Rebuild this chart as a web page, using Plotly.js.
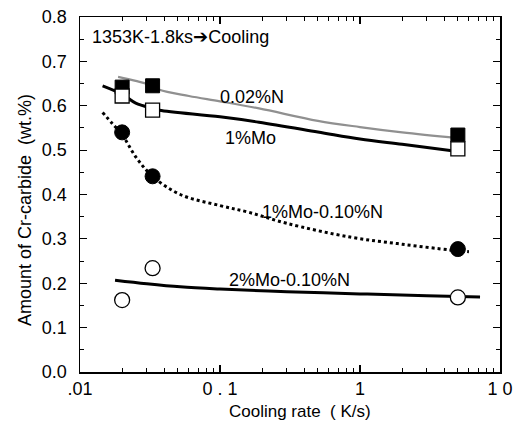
<!DOCTYPE html>
<html>
<head>
<meta charset="utf-8">
<script src="https://cdn.plot.ly/plotly-3.0.1.min.js"></script>
<style>html,body{margin:0;padding:0;background:#fff;}#chart{width:522px;height:423px;}</style>
</head>
<body>
<div id="chart"></div>
<script>
// Measured points
const rates = [0.02, 0.033, 5];
const n002Filled = [0.642, 0.645, 0.534];
const mo1Open = [0.622, 0.590, 0.503];
const mo1n010Filled = [0.540, 0.441, 0.277];
const mo2n010Open = [0.162, 0.234, 0.168];

// Fitted curves
const curveN002X = [0.0187, 0.025, 0.033, 0.037, 0.06, 0.1, 0.19, 0.5, 1, 2, 5];
const curveN002Y = [0.665, 0.656, 0.645, 0.636, 0.622, 0.610, 0.594, 0.566, 0.552, 0.540, 0.527];
const curveMo1X = [0.0145, 0.02, 0.025, 0.033, 0.037, 0.1, 0.19, 0.5, 1, 2, 5];
const curveMo1Y = [0.645, 0.626, 0.606, 0.594, 0.590, 0.575, 0.563, 0.541, 0.525, 0.513, 0.497];
const curveMo1N010X = [0.0145, 0.017, 0.02, 0.025, 0.033, 0.052, 0.1, 0.16, 0.3, 0.85, 2, 4.4, 6];
const curveMo1N010Y = [0.585, 0.560, 0.535, 0.485, 0.441, 0.400, 0.375, 0.360, 0.335, 0.304, 0.288, 0.275, 0.271];
const curveMo2X = [0.0178, 0.03, 0.052, 0.1, 0.3, 1, 3, 7.2];
const curveMo2Y = [0.207, 0.199, 0.192, 0.187, 0.181, 0.176, 0.172, 0.169];

const xTickVals = [0.01, 0.1, 1, 10];
const xTickText = ['.01', '0 . 1', '1', '1 0'];
const yTickVals = [0, 0.1, 0.2, 0.3, 0.4, 0.5, 0.6, 0.7, 0.8];
const yTickText = ['0.0', '0.1', '0.2', '0.3', '0.4', '0.5', '0.6', '0.7', '0.8'];

const minorX = [];
[0.01, 0.1, 1].forEach(d => { for (let k = 2; k <= 9; k++) minorX.push(d * k); });

const FONT = 'Liberation Sans, Arial, sans-serif';

const traces = [
  {x: curveN002X, y: curveN002Y, mode: 'lines', line: {color: '#909090', width: 2.2, shape: 'spline'}, hoverinfo: 'skip'},
  {x: curveMo1X, y: curveMo1Y, mode: 'lines', line: {color: '#000', width: 3, shape: 'spline'}, hoverinfo: 'skip'},
  {x: curveMo1N010X, y: curveMo1N010Y, mode: 'lines', line: {color: '#000', width: 3, dash: 'dot', shape: 'spline'}, hoverinfo: 'skip'},
  {x: curveMo2X, y: curveMo2Y, mode: 'lines', line: {color: '#000', width: 3, shape: 'spline'}, hoverinfo: 'skip'},
  {x: rates, y: n002Filled, mode: 'markers', marker: {symbol: 'square', size: 14, color: '#000', line: {color: '#000', width: 1}}},
  {x: rates, y: mo1Open, mode: 'markers', marker: {symbol: 'square', size: 14, color: '#fff', line: {color: '#000', width: 1.3}}},
  {x: rates, y: mo1n010Filled, mode: 'markers', marker: {symbol: 'circle', size: 15, color: '#000', line: {color: '#000', width: 1}}},
  {x: rates, y: mo2n010Open, mode: 'markers', marker: {symbol: 'circle', size: 15, color: '#fff', line: {color: '#000', width: 1.3}}}
];

const layout = {
  width: 522, height: 423,
  margin: {l: 80, r: 22, t: 17, b: 51},
  paper_bgcolor: '#fff', plot_bgcolor: '#fff',
  showlegend: false,
  font: {family: FONT, color: '#000', size: 18},
  xaxis: {
    type: 'log', range: [-2, 1],
    tickmode: 'array', tickvals: xTickVals, ticktext: xTickText,
    ticks: 'inside', ticklen: 7, tickwidth: 1.2, tickcolor: '#000',
    minor: {tickmode: 'array', tickvals: minorX, ticks: 'inside', ticklen: 4, tickwidth: 1, tickcolor: '#000'},
    showline: true, linecolor: '#000', linewidth: 1.5, mirror: 'ticks',
    showgrid: false, zeroline: false,
    ticklabelstandoff: 0,
    tickfont: {size: 18, family: FONT}
  },
  yaxis: {
    range: [0, 0.8],
    tickmode: 'array', tickvals: yTickVals, ticktext: yTickText,
    ticks: 'inside', ticklen: 7, tickwidth: 1.2, tickcolor: '#000',
    minor: {dtick: 0.05, ticks: 'inside', ticklen: 4, tickwidth: 1, tickcolor: '#000'},
    showline: true, linecolor: '#000', linewidth: 1.5, mirror: 'ticks',
    showgrid: false, zeroline: false,
    ticklabelstandoff: 8,
    tickfont: {size: 18, family: FONT}
  },
  annotations: [
    {xref: 'paper', yref: 'paper', x: 0.024, y: 0.944, xanchor: 'left', yanchor: 'middle', showarrow: false,
     text: '1353K-1.8ks<span style="font-family:DejaVu Sans">\u2794</span>Cooling', font: {size: 18, family: FONT}},
    {xref: 'paper', yref: 'paper', x: 0.41, y: 0.775, xanchor: 'center', yanchor: 'middle', showarrow: false,
     text: '0.02%N', font: {size: 18, family: FONT}},
    {xref: 'paper', yref: 'paper', x: 0.405, y: 0.659, xanchor: 'center', yanchor: 'middle', showarrow: false,
     text: '1%Mo', font: {size: 18, family: FONT}},
    {xref: 'paper', yref: 'paper', x: 0.578, y: 0.451, xanchor: 'center', yanchor: 'middle', showarrow: false,
     text: '1%Mo-0.10%N', font: {size: 18, family: FONT}},
    {xref: 'paper', yref: 'paper', x: 0.498, y: 0.259, xanchor: 'center', yanchor: 'middle', showarrow: false,
     text: '2%Mo-0.10%N', font: {size: 18, family: FONT}},
    {xref: 'paper', yref: 'paper', x: 0.524, y: -0.11, xanchor: 'center', yanchor: 'middle', showarrow: false,
     text: 'Cooling rate  ( K/s)', font: {size: 17, family: FONT}},
    {xref: 'paper', yref: 'paper', x: -0.131, y: 0.456, xanchor: 'center', yanchor: 'middle', showarrow: false,
     textangle: -90, text: 'Amount of Cr-carbide  (wt.%)', font: {size: 18, family: FONT}}
  ]
};

Plotly.newPlot('chart', traces, layout, {displayModeBar: false, staticPlot: true});
</script>
</body>
</html>
